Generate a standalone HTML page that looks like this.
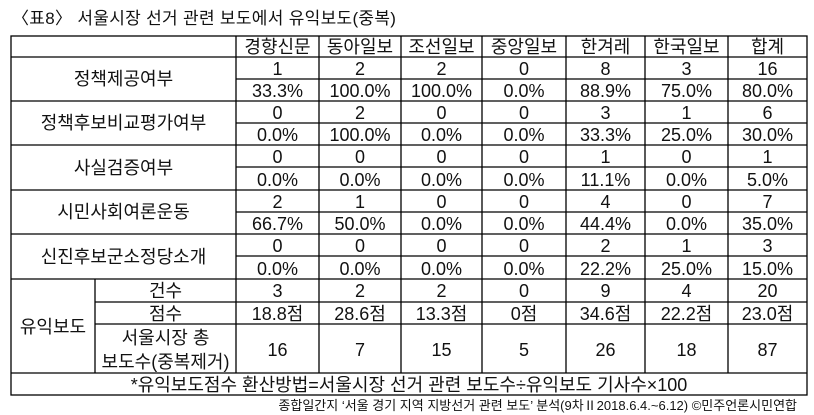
<!DOCTYPE html>
<html><head><meta charset="utf-8"><style>
html,body{margin:0;padding:0;background:#fff;}
svg{display:block;font-family:"Liberation Sans","Noto Sans CJK KR",sans-serif;}
</style></head><body>
<svg width="814" height="415" viewBox="0 0 814 415" xmlns="http://www.w3.org/2000/svg">
<text x="12" y="24" font-size="17" fill="#111" letter-spacing="0.3">〈표8〉 서울시장 선거 관련 보도에서 유익보도(중복)</text>
<g stroke="#000" stroke-width="1.3" fill="none">
<rect x="11" y="36" width="796" height="359"/>
<line x1="11" y1="57" x2="807" y2="57"/>
<line x1="11" y1="101" x2="807" y2="101"/>
<line x1="11" y1="145" x2="807" y2="145"/>
<line x1="11" y1="190" x2="807" y2="190"/>
<line x1="11" y1="234" x2="807" y2="234"/>
<line x1="11" y1="279" x2="807" y2="279"/>
<line x1="11" y1="373" x2="807" y2="373"/>
<line x1="236" y1="79" x2="807" y2="79"/>
<line x1="236" y1="123" x2="807" y2="123"/>
<line x1="236" y1="167" x2="807" y2="167"/>
<line x1="236" y1="212" x2="807" y2="212"/>
<line x1="236" y1="256" x2="807" y2="256"/>
<line x1="95" y1="302" x2="807" y2="302"/>
<line x1="95" y1="324" x2="807" y2="324"/>
<line x1="95" y1="279" x2="95" y2="373"/>
<line x1="236" y1="36" x2="236" y2="373"/>
<line x1="319" y1="36" x2="319" y2="373"/>
<line x1="401" y1="36" x2="401" y2="373"/>
<line x1="482" y1="36" x2="482" y2="373"/>
<line x1="566" y1="36" x2="566" y2="373"/>
<line x1="645" y1="36" x2="645" y2="373"/>
<line x1="728" y1="36" x2="728" y2="373"/>
</g>
<g font-size="18" fill="#111" text-anchor="middle">
<text x="277.5" y="53">경향신문</text><text x="360" y="53">동아일보</text><text x="441.5" y="53">조선일보</text><text x="524" y="53">중앙일보</text><text x="605.5" y="53">한겨레</text><text x="686.5" y="53">한국일보</text><text x="767.5" y="53">합계</text>

<text x="123.5" y="85">정책제공여부</text>
<text x="277.5" y="75">1</text><text x="360" y="75">2</text><text x="441.5" y="75">2</text><text x="524" y="75">0</text><text x="605.5" y="75">8</text><text x="686.5" y="75">3</text><text x="767.5" y="75">16</text>
<text x="277.5" y="97">33.3%</text><text x="360" y="97">100.0%</text><text x="441.5" y="97">100.0%</text><text x="524" y="97">0.0%</text><text x="605.5" y="97">88.9%</text><text x="686.5" y="97">75.0%</text><text x="767.5" y="97">80.0%</text>

<text x="123.5" y="129">정책후보비교평가여부</text>
<text x="277.5" y="119">0</text><text x="360" y="119">2</text><text x="441.5" y="119">0</text><text x="524" y="119">0</text><text x="605.5" y="119">3</text><text x="686.5" y="119">1</text><text x="767.5" y="119">6</text>
<text x="277.5" y="141">0.0%</text><text x="360" y="141">100.0%</text><text x="441.5" y="141">0.0%</text><text x="524" y="141">0.0%</text><text x="605.5" y="141">33.3%</text><text x="686.5" y="141">25.0%</text><text x="767.5" y="141">30.0%</text>

<text x="123.5" y="174">사실검증여부</text>
<text x="277.5" y="163">0</text><text x="360" y="163">0</text><text x="441.5" y="163">0</text><text x="524" y="163">0</text><text x="605.5" y="163">1</text><text x="686.5" y="163">0</text><text x="767.5" y="163">1</text>
<text x="277.5" y="186">0.0%</text><text x="360" y="186">0.0%</text><text x="441.5" y="186">0.0%</text><text x="524" y="186">0.0%</text><text x="605.5" y="186">11.1%</text><text x="686.5" y="186">0.0%</text><text x="767.5" y="186">5.0%</text>

<text x="123.5" y="218">시민사회여론운동</text>
<text x="277.5" y="208">2</text><text x="360" y="208">1</text><text x="441.5" y="208">0</text><text x="524" y="208">0</text><text x="605.5" y="208">4</text><text x="686.5" y="208">0</text><text x="767.5" y="208">7</text>
<text x="277.5" y="230">66.7%</text><text x="360" y="230">50.0%</text><text x="441.5" y="230">0.0%</text><text x="524" y="230">0.0%</text><text x="605.5" y="230">44.4%</text><text x="686.5" y="230">0.0%</text><text x="767.5" y="230">35.0%</text>

<text x="123.5" y="263">신진후보군소정당소개</text>
<text x="277.5" y="252">0</text><text x="360" y="252">0</text><text x="441.5" y="252">0</text><text x="524" y="252">0</text><text x="605.5" y="252">2</text><text x="686.5" y="252">1</text><text x="767.5" y="252">3</text>
<text x="277.5" y="275">0.0%</text><text x="360" y="275">0.0%</text><text x="441.5" y="275">0.0%</text><text x="524" y="275">0.0%</text><text x="605.5" y="275">22.2%</text><text x="686.5" y="275">25.0%</text><text x="767.5" y="275">15.0%</text>

<text x="53" y="333">유익보도</text>
<text x="165.5" y="297">건수</text>
<text x="277.5" y="297">3</text><text x="360" y="297">2</text><text x="441.5" y="297">2</text><text x="524" y="297">0</text><text x="605.5" y="297">9</text><text x="686.5" y="297">4</text><text x="767.5" y="297">20</text>
<text x="165.5" y="320">점수</text>
<text x="277.5" y="320">18.8점</text><text x="360" y="320">28.6점</text><text x="441.5" y="320">13.3점</text><text x="524" y="320">0점</text><text x="605.5" y="320">34.6점</text><text x="686.5" y="320">22.2점</text><text x="767.5" y="320">23.0점</text>
<text x="165.5" y="344">서울시장 총</text>
<text x="165.5" y="368">보도수(중복제거)</text>
<text x="277.5" y="356">16</text><text x="360" y="356">7</text><text x="441.5" y="356">15</text><text x="524" y="356">5</text><text x="605.5" y="356">26</text><text x="686.5" y="356">18</text><text x="767.5" y="356">87</text>
<text x="409" y="391">*유익보도점수 환산방법=서울시장 선거 관련 보도수÷유익보도 기사수×100</text>
</g>
<text x="797" y="410" font-size="13" fill="#111" text-anchor="end">종합일간지 ‘서울 경기 지역 지방선거 관련 보도’ 분석(9차Ⅱ2018.6.4.~6.12) ©민주언론시민연합</text>
</svg>
</body></html>
